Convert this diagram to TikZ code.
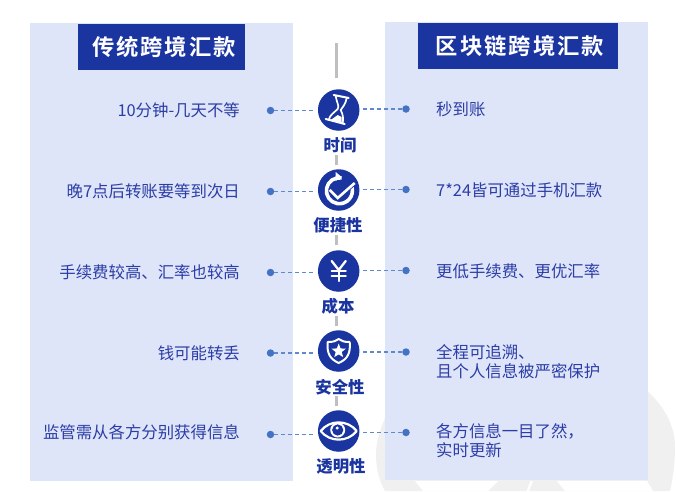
\documentclass[tikz,border=0pt]{standalone}
\usepackage{fontspec}
\setmainfont{Noto Sans CJK SC}
\newfontfamily\titlefont[LetterSpace=9,BoldFont={Noto Sans CJK SC Bold}]{Noto Sans CJK SC}
\definecolor{panelblue}{HTML}{DFE5F9}
\definecolor{navy}{HTML}{1A34A0}
\definecolor{textblue}{HTML}{2B3DA6}
\definecolor{linkblue}{HTML}{4472C4}
\definecolor{linksoft}{HTML}{5F88CF}
\definecolor{spine}{HTML}{BFBFBF}
\definecolor{water}{HTML}{F0F0F0}
\tikzset{
  panel/.style={fill=panelblue,draw=none},
  titlebox/.style={fill=navy,draw=none,inner sep=0pt},
  titletext/.style={text=white,inner sep=0pt,font=\titlefont\fontsize{22.3}{24}\selectfont\bfseries},
  badge/.style={circle,fill=navy,draw=none,minimum size=41.5pt,inner sep=0pt},
  caption/.style={text=navy,inner sep=0pt,font=\fontsize{16.4}{18}\selectfont\bfseries},
  dot/.style={circle,fill=linkblue,draw=none,minimum size=7.5pt,inner sep=0pt},
  link/.style={linksoft,line width=1.4pt,dash pattern=on 4pt off 3pt},
  ltext/.style={text=textblue,inner sep=0pt,anchor=east,font=\fontsize{16.4}{19}\selectfont},
  rtext/.style={text=textblue,inner sep=0pt,anchor=west,align=left,font=\fontsize{16.4}{19}\selectfont},
  spineline/.style={spine,line width=3pt},
  icon/.style={white,line width=2pt,line join=round,line cap=round,fill=none}
}
\begin{document}
\begin{tikzpicture}[x=1pt,y=-1pt]
\useasboundingbox (0,0) rectangle (676,491);
\fill[white] (0,0) rectangle (676,491);
% watermark
\begin{scope}
\clip (0,0) rectangle (676,491);
\fill[water] (385,418) .. controls (380,430) and (376,442) .. (376,455)
  .. controls (376,470) and (380,482) .. (385,491) -- (670,491)
  .. controls (673,478) and (675,462) .. (675,447)
  .. controls (675,425) and (663,405) .. (648,392) -- cycle;
\fill[white] (415,481) -- (498,481) -- (488,491) -- (423,491) -- cycle;
\fill[white] (530.5,481) -- (533,481) -- (529,491) -- (526.5,491) -- cycle;
\fill[white] (557,481) -- (647,481) -- (653,491) -- (565,491) -- cycle;
\end{scope}
% panels
\fill[panel] (30,23) rectangle (293,481);
\fill[panel] (385,22) rectangle (648,480);
% titles
\node[titlebox,minimum width=167pt,minimum height=46pt] (tl) at (161.5,47) {};
\node[titletext] (tlt) at (164,47) {传统跨境汇款};
\node[titlebox,minimum width=200pt,minimum height=46pt] (tr) at (518,46) {};
\node[titletext] (trt) at (520,46) {区块链跨境汇款};
% spine
\draw[spineline] (336.5,43) -- (336.5,78);
\draw[spineline] (336.5,155) -- (336.5,165);
\draw[spineline] (336.5,235) -- (336.5,245);
\draw[spineline] (336.5,316) -- (336.5,326);
\draw[spineline] (336.5,396) -- (336.5,406);
% badges
\node[badge] (c1) at (338.7,110) {};
\node[badge] (c2) at (338.7,190) {};
\node[badge] (c3) at (338.7,271) {};
\node[badge] (c4) at (338.7,351) {};
\node[badge] (c5) at (338.7,431) {};
% captions
\node[caption] (k1) at (340,145) {时间};
\node[caption] (k2) at (338,225.5) {便捷性};
\node[caption] (k3) at (338,306) {成本};
\node[caption] (k4) at (340,387) {安全性};
\node[caption] (k5) at (341,466) {透明性};
% dots
\node[dot] (l1) at (270.5,110.5) {};
\node[dot] (l2) at (270.5,191.5) {};
\node[dot] (l3) at (270.5,272.5) {};
\node[dot] (l4) at (270.5,353) {};
\node[dot] (l5) at (270.5,434.5) {};
\node[dot] (r1) at (406,109) {};
\node[dot] (r2) at (406,189.5) {};
\node[dot] (r3) at (406,270.5) {};
\node[dot] (r4) at (406,352) {};
\node[dot] (r5) at (406,432.5) {};
% connectors
\foreach \i in {1,...,5}{
  \draw[link,shorten >=2pt] (l\i) -- (l\i -| c\i.west);
  \draw[link,shorten >=2pt] (r\i) -- (r\i -| c\i.east);
}
% texts
\node[ltext] (t1) at (240,110.5) {10分钟-几天不等};
\node[ltext] (t2) at (240,191.5) {晚7点后转账要等到次日};
\node[ltext] (t3) at (240,272.5) {手续费较高、汇率也较高};
\node[ltext] (t4) at (240,353.5) {钱可能转丢};
\node[ltext] (t5) at (240,432) {监管需从各方分别获得信息};
\node[rtext] (u1) at (436,109.5) {秒到账};
\node[rtext] (u2) at (436,190) {7*24皆可通过手机汇款};
\node[rtext] (u3) at (436,271) {更低手续费、更优汇率};
\node[rtext] (u4) at (436,361.5) {全程可追溯、\\且个人信息被严密保护};
\node[rtext] (u5) at (436,440.5) {各方信息一目了然，\\实时更新};
% hourglass
\begin{scope}[shift={(c1.center)}]
\draw[icon] (-5,-15) -- (10,-12);
\draw[icon] (-13,9) -- (6,14);
\draw[icon,line width=1.7pt] (-3,-14) .. controls (-2,-7) and (1,-4) .. (-1,-1) .. controls (-5,3) and (-9,5) .. (-10,10);
\draw[icon,line width=1.7pt] (8,-12) .. controls (7,-6) and (4,-3) .. (2,0) .. controls (4,4) and (5,8) .. (4,13);
\fill[white] (-8,10) -- (-1,5) -- (3,7) -- (3,12.5) -- cycle;
\end{scope}
% check in ring
\begin{scope}[shift={(c2.center)}]
\draw[white,line width=3.6pt] (0.7,0.7) ++(-80:13) arc[start angle=-80,end angle=-375,radius=13];
\fill[white] (-3,-18) -- (3,-13) -- (-3,-9) -- cycle;
\draw[navy,line width=5pt] (-1,7) -- (18,-9);
\draw[white,line width=2.6pt,line join=miter] (-9,0) -- (-1,8) -- (16,-7);
\end{scope}
% yen
\begin{scope}[shift={(c3.center)}]
\draw[icon,line width=2.3pt] (-7,-10) -- (0,-1) -- (7,-10);
\draw[icon,line width=2.3pt] (-7,0) -- (7,0);
\draw[icon,line width=2.3pt] (-7,5) -- (7,5);
\draw[icon,line width=2.3pt] (0,-1) -- (0,10);
\end{scope}
% shield
\begin{scope}[shift={(c4.center)}]
\draw[icon] (-11,-9) .. controls (-5,-9) and (-3,-10) .. (0,-12) .. controls (3,-10) and (5,-9) .. (11,-9)
  .. controls (12,2) and (9,8) .. (0,12) .. controls (-9,8) and (-12,2) .. (-11,-9) -- cycle;
\fill[white] (-90:7.5) -- (-54:3.2) -- (-18:7.5) -- (18:3.2) -- (54:7.5) -- (90:3.4) -- (126:7.5) -- (162:3.2) -- (198:7.5) -- (234:3.2) -- cycle;
\end{scope}
% eye
\begin{scope}[shift={(c5.center)}]
\draw[icon,line width=2.2pt] (-18,0) .. controls (-9,-11.5) and (9,-11.5) .. (18,0) .. controls (9,11.5) and (-9,11.5) .. (-18,0) -- cycle;
\fill[white] (-1,-1) circle[radius=7.5];
\fill[navy] (-1,-1) circle[radius=5.6];
\fill[white] (-1.5,-3) circle[radius=1.7];
\end{scope}
\end{tikzpicture}
\end{document}
